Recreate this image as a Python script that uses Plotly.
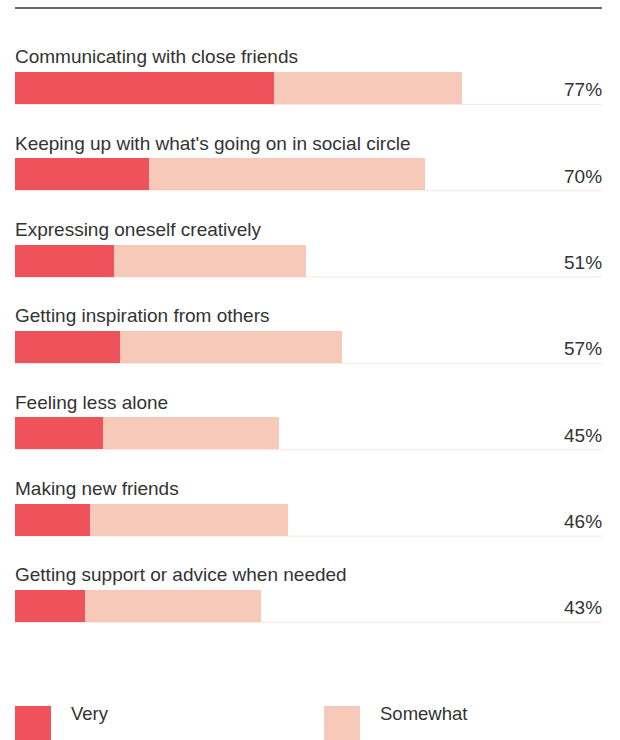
import plotly.graph_objects as go

categories = [
    "Communicating with close friends",
    "Keeping up with what's going on in social circle",
    "Expressing oneself creatively",
    "Getting inspiration from others",
    "Feeling less alone",
    "Making new friends",
    "Getting support or advice when needed",
]
very = [44.6, 23.1, 17.1, 18.1, 15.2, 12.9, 12.1]
somewhat = [32.4, 47.5, 33.1, 38.2, 30.3, 34.1, 30.3]
totals = ["77%", "70%", "51%", "57%", "45%", "46%", "43%"]
series_names = ["Very", "Somewhat"]

C_VERY = "#F0525C"
C_SOME = "#F6C9B8"
FONT = "Liberation Sans"
TXT = "#333333"

W, H = 620, 740
XL, XR = 15, 602

fig = go.Figure()
fig.add_trace(go.Bar(y=categories, x=very, orientation="h", name=series_names[0],
                     marker=dict(color=C_VERY, line=dict(width=0)), width=0.37))
fig.add_trace(go.Bar(y=categories, x=somewhat, orientation="h", name=series_names[1],
                     marker=dict(color=C_SOME, line=dict(width=0)), width=0.37))

# y: category i center at pixel 88 + 86.33*i
top_px = 88 - 86.33
bot_px = 88 + 7 * 86.33
annotations = []
shapes = []
for i, c in enumerate(categories):
    annotations.append(dict(text=c, x=XL / W, xref="paper", y=c, yref="y",
                            xanchor="left", yanchor="middle", yshift=31, xshift=-2,
                            showarrow=False,
                            font=dict(family=FONT, size=19, color=TXT)))
    annotations.append(dict(text=totals[i], x=XR / W, xref="paper", y=c, yref="y",
                            xanchor="right", yanchor="middle", yshift=-2, xshift=2,
                            showarrow=False,
                            font=dict(family=FONT, size=19, color=TXT)))
    shapes.append(dict(type="line", xref="paper", yref="y", x0=XL / W, x1=XR / W,
                       y0=i + 0.19, y1=i + 0.19, line=dict(color="#F7E6E0", width=1),
                       layer="below"))

# top rule
shapes.append(dict(type="line", xref="paper", yref="paper", x0=XL / W, x1=XR / W,
                   y0=1 - 8 / H, y1=1 - 8 / H, line=dict(color="#666666", width=2)))

# legend
for name, col, x0, tx in [(series_names[0], C_VERY, 15, 71), (series_names[1], C_SOME, 324, 380)]:
    shapes.append(dict(type="rect", xref="paper", yref="paper", x0=x0 / W, x1=(x0 + 36) / W,
                       y0=0, y1=1 - 706 / H, fillcolor=col, line=dict(width=0)))
    annotations.append(dict(text=name, x=tx / W, xref="paper", y=1 - 713 / H, yref="paper",
                            xanchor="left", yanchor="middle", xshift=-2, showarrow=False,
                            font=dict(family=FONT, size=18.5, color=TXT)))

fig.update_layout(
    width=W, height=H, barmode="stack", showlegend=False,
    margin=dict(l=0, r=0, t=0, b=0),
    paper_bgcolor="white", plot_bgcolor="white",
    xaxis=dict(domain=[XL / W, XR / W], range=[0, 587 / 5.806], visible=False, fixedrange=True),
    yaxis=dict(domain=[1 - bot_px / H, 1 - top_px / H], range=[7, -1], visible=False,
               type="category", categoryorder="array", categoryarray=categories, fixedrange=True),
    annotations=annotations, shapes=shapes,
)

fig.write_html("out.html", config={"displayModeBar": False},
               post_script="document.body.style.margin='0';document.body.style.overflow='hidden';")
